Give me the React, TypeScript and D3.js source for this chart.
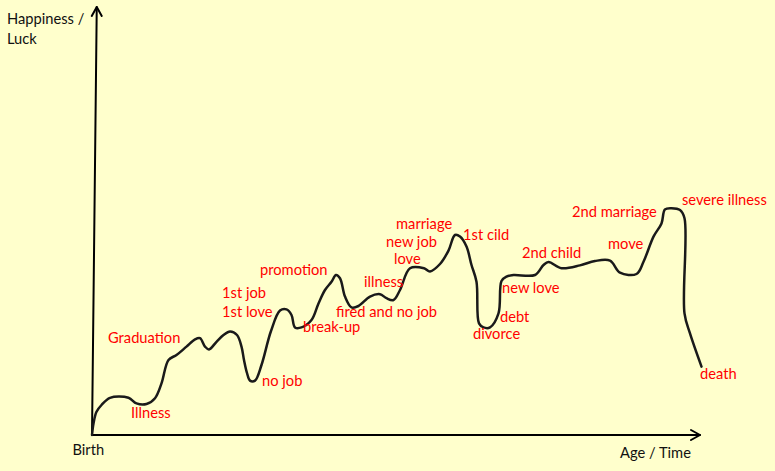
import React from "react";
import * as d3 from "d3";

// Life curve: age (years) vs happiness / luck (0-100)
const ages = [0, 0.3, 0.9, 1.9, 3.6, 7.3, 8.9, 10.9, 12.6, 13.9, 15.3, 16.9, 18.9, 20.6, 21.6, 22.6, 23.4, 24.9, 26.3, 27.6, 29.0, 29.9, 30.4, 31.0, 31.6, 32.6, 33.9, 35.8, 37.6, 38.9, 39.9, 40.6, 41.9, 43.9, 45.3, 46.6, 47.9, 48.8, 49.6, 50.6, 51.9, 53.3, 55.6, 57.6, 58.9, 60.3, 61.6, 63.6, 66.4, 67.6, 69.6, 71.3, 72.6, 73.6, 74.9, 75.9, 76.9, 77.4, 78.3, 79.6, 81.3, 81.9, 82.9, 84.3, 88.6, 90.3, 91.3, 93.9, 97.6, 100.6, 103.6, 105.6, 108.9, 110.3, 112.3, 113.9, 114.6, 115.9, 117.6, 118.5, 118.5, 119.6, 121.9];
const happiness = [0, 2.9, 5.8, 7.5, 9.3, 9.3, 7.9, 7.75, 9.2, 12.9, 18.75, 20, 22.1, 23.9, 24.2, 22.1, 21.4, 23.3, 25, 25.9, 25, 22.1, 18.75, 15.5, 13.6, 13.6, 17.5, 26, 31.1, 31.4, 30, 26.9, 26.9, 28.75, 32.9, 36.25, 38.3, 40, 39.2, 34.6, 31.9, 32.25, 34.6, 35.2, 34.2, 33.75, 36.25, 41.7, 41.7, 40.9, 42.75, 46.1, 50, 49.6, 47.1, 42.5, 38.3, 27.9, 26.9, 26.9, 30.4, 38.5, 39.6, 40, 40, 42.5, 43.25, 41.7, 42.4, 43.5, 43.6, 40.6, 40.25, 43.3, 49.6, 52.9, 56.4, 56.7, 56.25, 54.2, 30.4, 25.4, 17.1];

// Event annotations (anchored in age / happiness units)
const eventLabels = ["Graduation", "Illness", "1st job", "1st love", "no job", "promotion", "break-up", "illness", "fired and no job", "marriage", "new job", "love", "1st cild", "new love", "debt", "divorce", "2nd child", "move", "2nd marriage", "severe illness", "death"];
const eventAges = [3.2, 7.8, 26, 26, 34, 33.6, 42.2, 54.4, 48.8, 60.8, 58.8, 60.4, 74.2, 82, 81.6, 76.2, 86, 103.2, 96, 118, 121.6];
const eventHappiness = [23.1, 4.2, 34.3, 29.6, 12.3, 40, 25.8, 37, 29.6, 51.6, 47, 42.7, 48.7, 35.4, 28.3, 24, 44.2, 46.6, 54.5, 57.5, 14];

const yAxisTitle = ["Happiness /", "Luck"];
const xAxisTitle = "Age / Time";
const originLabel = "Birth";

const W = 775;
const H = 471;

export default function App() {
  const x = d3.scaleLinear().domain([0, 122]).range([92, 702]);
  const y = d3.scaleLinear().domain([0, 100]).range([435, 35]);

  const pts: [number, number][] = ages.map((a, i) => [a, happiness[i]]);
  const line = d3
    .line<[number, number]>()
    .x((d) => x(d[0]))
    .y((d) => y(d[1]))
    .curve(d3.curveCatmullRom.alpha(0.5));

  const x0 = x(0);
  const y0 = y(0);
  const xEnd = x(121.6);
  const yTop = y(107);
  const yTopX = x(0.95);

  const font = "Lato, 'Noto Sans', sans-serif";
  const fs = 14.7;

  return (
    <svg
      width={W}
      height={H}
      style={{ position: "fixed", left: 0, top: 0 }}
      xmlns="http://www.w3.org/2000/svg"
    >
      <rect x={0} y={0} width={W} height={H} fill="#FFFFCC" />
      {/* axes */}
      <g stroke="#000" strokeWidth={2} fill="none" strokeLinecap="round" strokeLinejoin="round">
        <line x1={x0} y1={y0} x2={yTopX} y2={yTop} />
        <polyline points={`${yTopX - 5},${yTop + 9} ${yTopX},${yTop} ${yTopX + 5},${yTop + 9}`} />
        <line x1={x0} y1={y0} x2={xEnd} y2={y0} />
        <polyline points={`${xEnd - 9},${y0 - 5} ${xEnd},${y0} ${xEnd - 9},${y0 + 5}`} />
      </g>
      {/* curve */}
      <path d={line(pts) || ""} fill="none" stroke="#1a1a1a" strokeWidth={2.5} strokeLinejoin="round" strokeLinecap="round" />
      {/* axis titles */}
      <g fontFamily={font} fontSize={fs} fill="#111">
        {yAxisTitle.map((t, i) => (
          <text key={t} x={7} y={24 + i * 19.5}>{t}</text>
        ))}
        <text x={x(-3.9)} y={455}>{originLabel}</text>
        <text x={x(105.6)} y={458}>{xAxisTitle}</text>
      </g>
      {/* events */}
      <g fontFamily={font} fontSize={fs} fill="#FF0000">
        {eventLabels.map((t, i) => (
          <text key={t + i} x={x(eventAges[i])} y={y(eventHappiness[i])}>{t}</text>
        ))}
      </g>
    </svg>
  );
}
